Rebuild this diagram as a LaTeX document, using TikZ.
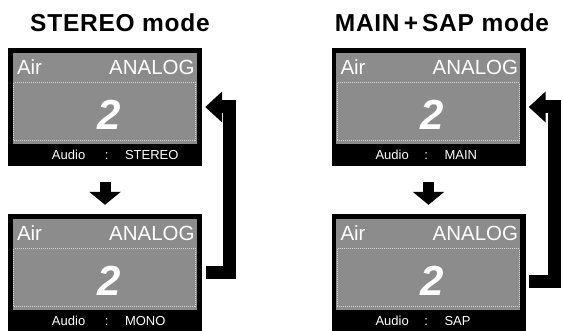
\documentclass[tikz,border=0pt]{standalone}
\usepackage{fontspec}
\setmainfont{Liberation Sans}
\newfontfamily\titlefont[LetterSpace=3]{Liberation Sans}
\usetikzlibrary{arrows.meta}
\definecolor{panel}{HTML}{8C8C8C}
\definecolor{frame}{HTML}{D6D6D6}

\begin{document}
\begin{tikzpicture}[x=1pt,y=1pt,
  screen/.style={fill=black,minimum width=194pt,minimum height=118pt,inner sep=0pt},
  title/.style={inner sep=0pt,font=\titlefont\bfseries\fontsize{24.5}{25}\selectfont},
  lcd/.style={text=white,inner sep=0pt,font=\fontsize{20.5}{20.5}\selectfont},
  digit/.style={text=white,inner sep=0pt,font=\bfseries\itshape\fontsize{42}{42}\selectfont},
  info/.style={text=white,inner sep=0pt,font=\fontsize{13}{13}\selectfont},
  downarr/.style={line width=11pt,-{Triangle[length=13pt,width=31pt]}},
  backarr/.style={line width=13pt,-{Triangle[length=17pt,width=30pt]}}]
  \useasboundingbox (0,0) rectangle (563,331);
  \node[title,anchor=base] (t1) at (120,299) {STEREO mode};
  \node[title,anchor=base] (t2) at (442,299) {MAIN\,+\,SAP mode};
  \node[screen] (s1) at (105,224) {};
  \node[screen] (s2) at (105,58) {};
  \node[screen] (s3) at (428.5,224) {};
  \node[screen] (s4) at (428.5,58) {};
  \foreach \s/\v/\c/\w in {s1/STEREO/99/117,s2/MONO/99/117,s3/MAIN/95/113,s4/SAP/95/113}{
    \begin{scope}[shift={(\s.north west)}]
      \fill[panel] (5,-5) rectangle (189,-96);
      \draw[frame,densely dotted,line width=1pt] (6,-35) rectangle (188,-93);
      \node[lcd,anchor=base west] (\s-air) at (9,-27) {Air};
      \node[lcd,anchor=base east] (\s-src) at (187,-27) {ANALOG};
      \node[digit,anchor=base] (\s-ch) at (101,-82) {2};
      \node[info,anchor=base west] (\s-aud) at (44,-112) {Audio};
      \node[info,anchor=base] (\s-col) at (\c,-112) {:};
      \node[info,anchor=base west] (\s-val) at (\w,-112) {\v};
    \end{scope}
  }
  \draw[downarr,shorten <=16pt,shorten >=9pt] (s1.south) -- (s2.north);
  \draw[downarr,shorten <=16pt,shorten >=9pt] (s3.south) -- (s4.north);
  \draw[backarr,shorten <=4pt,shorten >=3pt] (s2.east) -- ++(27.5,0) |- (s1.east);
  \draw[backarr,shorten <=3pt,shorten >=3pt] ([yshift=-8.5pt]s4.east) -- ++(28.5,0) |- (s3.east);
\end{tikzpicture}
\end{document}
